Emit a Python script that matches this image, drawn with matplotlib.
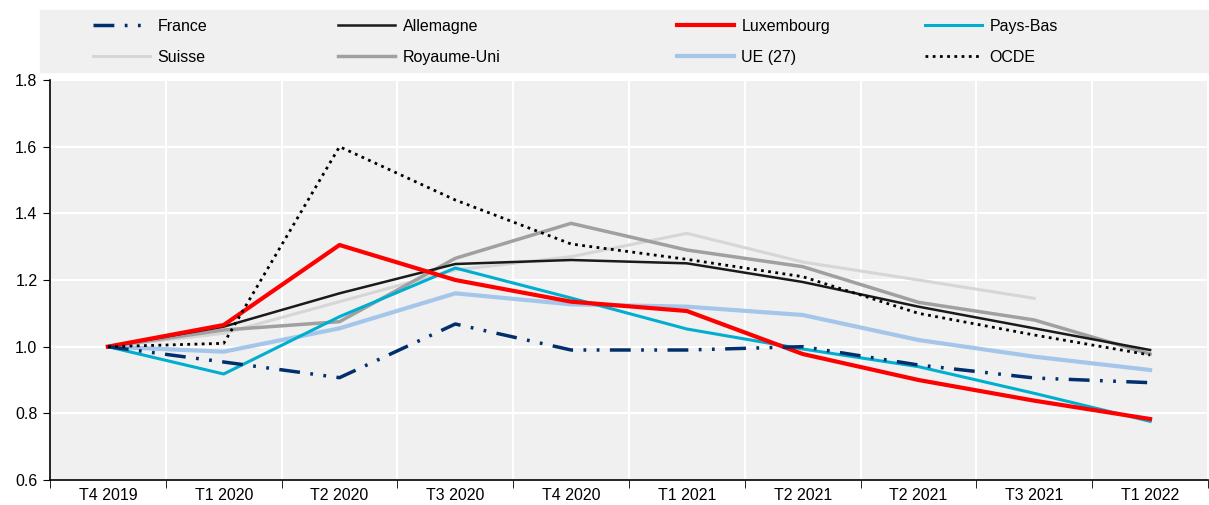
import numpy as np
import matplotlib.pyplot as plt
from matplotlib.lines import Line2D
from matplotlib.patches import Rectangle

plt.rcParams['font.family'] = ['Liberation Sans', 'DejaVu Sans']
plt.rcParams['font.size'] = 11.5

quarters = ['T4 2019', 'T1 2020', 'T2 2020', 'T3 2020', 'T4 2020',
            'T1 2021', 'T2 2021', 'T2 2021', 'T3 2021', 'T1 2022']

france = [1.0, 0.954, 0.907, 1.068, 0.99, 0.99, 1.0, 0.945, 0.906, 0.892]
allemagne = [1.0, 1.06, 1.16, 1.248, 1.26, 1.25, 1.194, 1.12, 1.055, 0.99]
luxembourg = [1.0, 1.065, 1.305, 1.2, 1.135, 1.107, 0.978, 0.9, 0.838, 0.783]
pays_bas = [1.0, 0.918, 1.09, 1.236, 1.146, 1.053, 0.993, 0.94, 0.86, 0.776]
suisse = [1.0, 1.04, 1.135, 1.23, 1.27, 1.34, 1.254, 1.2, 1.145, np.nan]
royaume_uni = [1.0, 1.05, 1.075, 1.265, 1.37, 1.29, 1.24, 1.133, 1.08, 0.978]
ue27 = [1.0, 0.985, 1.055, 1.16, 1.127, 1.12, 1.095, 1.02, 0.97, 0.93]
ocde = [1.0, 1.01, 1.6, 1.44, 1.308, 1.262, 1.21, 1.1, 1.035, 0.975]

fig = plt.figure(figsize=(12.09, 5.05), dpi=100)
ax = fig.add_axes([50/1209, 25/505, 1158/1209, 400/505])
ax.set_facecolor('#f0f0f0')

x = np.arange(len(quarters))
styles = {
    'France': dict(color='#002f6c', lw=2.5, dashes=(6, 3, 0.8, 3, 0.8, 3)),
    'Allemagne': dict(color='#1a1a1a', lw=1.8),
    'Luxembourg': dict(color='#ff0000', lw=3),
    'Pays-Bas': dict(color='#00aed0', lw=2.2),
    'Suisse': dict(color='#d6d6d6', lw=2.2),
    'Royaume-Uni': dict(color='#a0a0a0', lw=2.5),
    'UE (27)': dict(color='#a4c6ea', lw=3),
    'OCDE': dict(color='black', lw=2, dashes=(1, 1.6)),
}
series = {
    'Suisse': suisse, 'Royaume-Uni': royaume_uni, 'UE (27)': ue27,
    'Pays-Bas': pays_bas, 'Allemagne': allemagne, 'Luxembourg': luxembourg,
    'France': france, 'OCDE': ocde,
}
for name, vals in series.items():
    ax.plot(x, vals, **styles[name], zorder=3)

ax.set_xlim(-0.5, len(quarters) - 0.5)
ax.set_ylim(0.6, 1.8)
ax.set_yticks(np.arange(0.6, 1.81, 0.2))
ax.set_yticklabels([f'{v:.1f}' for v in np.arange(0.6, 1.81, 0.2)])
ax.set_xticks(x)
ax.set_xticklabels(quarters)
ax.set_xticks(np.arange(-0.5, len(quarters)), minor=True)
ax.tick_params(axis='x', which='major', length=0, pad=6)
ax.tick_params(axis='x', which='minor', length=6, direction='out')
ax.tick_params(axis='y', length=5, direction='out', pad=4)
ax.grid(axis='y', which='major', color='white', lw=1.5)
ax.grid(axis='x', which='minor', color='white', lw=1.5)
ax.set_axisbelow(True)
for s in ['top', 'right']:
    ax.spines[s].set_visible(False)
for s in ['left', 'bottom']:
    ax.spines[s].set_linewidth(1.2)
    ax.spines[s].set_zorder(4)

# legend band
fig.patches.append(Rectangle((40/1209, 1 - 72/505), 1 - 40/1209, 62/505,
                             transform=fig.transFigure, color='#f0f0f0', zorder=0))
columns = [['France', 'Suisse'], ['Allemagne', 'Royaume-Uni'],
           ['Luxembourg', 'UE (27)'], ['Pays-Bas', 'OCDE']]
col_x = [88, 333, 672, 920]
for names, cx in zip(columns, col_x):
    handles = [Line2D([], [], **styles[n]) for n in names]
    leg = fig.legend(handles, names, loc='upper left',
                     bbox_to_anchor=(cx/1209, 1 - 14/505), frameon=False,
                     handlelength=3.6, handletextpad=0.45, labelspacing=1.0,
                     borderaxespad=0, borderpad=0.3)

fig.savefig('out.png', dpi=100)
